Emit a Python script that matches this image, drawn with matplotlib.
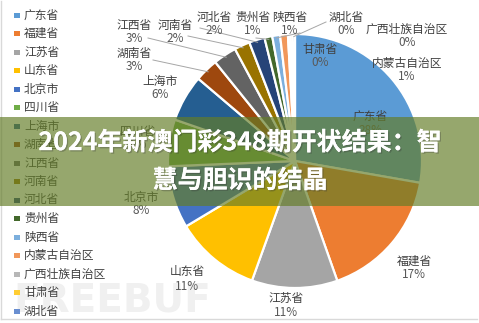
import matplotlib
matplotlib.use("Agg")
import numpy as np
import matplotlib.pyplot as plt
from matplotlib import font_manager
from matplotlib import patheffects as pe
from matplotlib.patches import Rectangle

# ---- data ----
provinces = ["广东省", "福建省", "江苏省", "山东省", "北京市", "四川省", "上海市",
             "湖南省", "江西省", "河南省", "河北省", "贵州省", "陕西省",
             "内蒙古自治区", "广西壮族自治区", "甘肃省", "湖北省"]
shares = [28, 17, 11, 11, 8, 6, 6, 3, 3, 2, 2, 1, 1, 1, 0.3, 0.3, 0.3]
colors = ["#5B9BD5", "#ED7D31", "#A5A5A5", "#FFC000", "#4472C4", "#70AD47",
          "#255E91", "#9E480E", "#636363", "#997300", "#264478", "#43682B",
          "#7CAFDD", "#F1975A", "#B7B7B7", "#FFCD33", "#698ED0"]
title_lines = ["2024年新澳门彩348期开状结果：智", "慧与胆识的结晶"]
watermark = "FREEBUF"

# ---- layout (pixel coordinates, y measured from the top) ----
W, H = 479, 323
center_px = (295, 161)
radius_px = 127
# name label anchor for each slice; the percentage sits just below it
label_pos = [(370, 116), (414, 261), (286, 298), (187, 272), (141, 197),
             (138, 131), (160, 81), (134, 53), (134, 25), (175, 25),
             (214, 17), (253, 17), (290, 17), (407, 63), (407, 29),
             (320, 49), (346, 17)]
# labels connected to their slice with a leader line: (slice index, line start)
leaders = {7: (153, 60), 8: (148, 38), 9: (188, 36), 10: (200, 28),
           12: (300, 33), 11: (256, 38), 16: (326, 22)}

CJK = ["Noto Sans CJK SC", "DejaVu Sans"]
plt.rcParams["font.family"] = CJK
TXT = "#404040"


def py(y):
    return H - y


fig = plt.figure(figsize=(W / 100, H / 100), dpi=100)
ax = fig.add_axes([0, 0, 1, 1])

wedges, _ = ax.pie(shares, colors=colors, startangle=90, counterclock=False,
                   center=(center_px[0], py(center_px[1])), radius=radius_px,
                   wedgeprops=dict(edgecolor="white", linewidth=1.6))
for w in wedges:
    w.set_zorder(2)
ax.set_xlim(0, W)
ax.set_ylim(0, H)
ax.set_aspect("equal")
ax.axis("off")

total = float(sum(shares))
cx, cy = center_px[0], py(center_px[1])

# slice labels
for i, (name, val) in enumerate(zip(provinces, shares)):
    lx, ly = label_pos[i]
    pct = "{:.0f}%".format(val / total * 100)
    ax.text(lx, py(ly), name, ha="center", va="center", fontsize=8.5,
            color=TXT, zorder=4)
    ax.text(lx, py(ly + 14), pct, ha="center", va="center", fontsize=8.5,
            color="#595959", zorder=4)

# leader lines to the small slices
for i, (sx, sy) in leaders.items():
    w = wedges[i]
    mid = np.deg2rad((w.theta1 + w.theta2) / 2)
    ex = cx + radius_px * 0.98 * np.cos(mid)
    ey = cy + radius_px * 0.98 * np.sin(mid)
    ax.plot([sx, ex], [py(sy), ey], color="#A6A6A6", lw=0.7, zorder=3)

# legend
for i, name in enumerate(provinces):
    y = 15 + i * 18.5
    ax.add_patch(Rectangle((14, py(y) - 2.5), 6, 5, facecolor=colors[i],
                           edgecolor="none", zorder=4))
    ax.text(24, py(y), name, ha="left", va="center", fontsize=8.5,
            color=TXT, zorder=4)

# faint watermark
names = {f.name for f in font_manager.fontManager.ttflist}
if "Liberation Sans Narrow" in names:
    wm_font, wm_size = ["Liberation Sans Narrow"], 35
else:
    wm_font, wm_size = ["DejaVu Sans"], 28
ax.text(112, py(300), watermark, ha="center", va="center", fontsize=wm_size,
        fontweight="bold", family=wm_font, color="#F0F0F0", zorder=1)

# chart frame
ax.plot([1.5, 1.5], [py(1), py(319)], color="#D9D9D9", lw=1, zorder=1)
ax.plot([1.5, W - 2], [py(319), py(319)], color="#D9D9D9", lw=1, zorder=1)

# title banner
ax.add_patch(Rectangle((0, py(206)), W, 89, facecolor=(100 / 255, 125 / 255, 40 / 255),
                       alpha=0.68, edgecolor="none", zorder=6))
shadow = [pe.withSimplePatchShadow(offset=(1, -1), shadow_rgbFace="#333333", alpha=0.3),
          pe.Normal()]
for k, line in enumerate(title_lines):
    ax.text(240, py(143 + k * 38), line, ha="center", va="center",
            fontsize=18, fontweight="bold", color="white", zorder=7,
            path_effects=shadow)

fig.savefig("out.png", dpi=100)
